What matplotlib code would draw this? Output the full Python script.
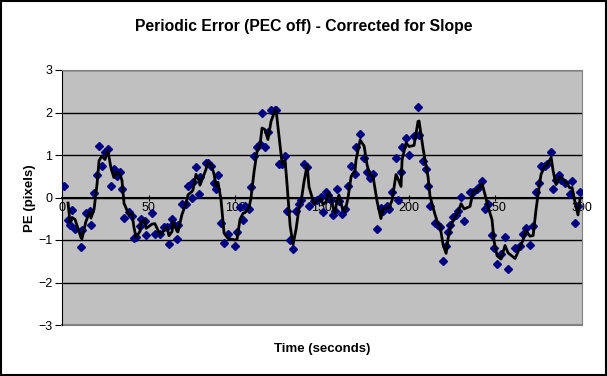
import numpy as np
import matplotlib
matplotlib.use('Agg')
from matplotlib import pyplot as plt
from matplotlib.patches import Rectangle

plt.rcParams['font.family'] = ['Liberation Sans', 'DejaVu Sans']

# time (s) and periodic error (pixels)
t = [1.2, 3.5, 4.6, 5.8, 7.5, 11.0, 11.5, 13.8, 16.0, 16.7, 18.5, 20.2, 21.4, 23.0, 24.8,
     26.5, 28.2, 29.9, 31.7, 33.5, 34.6, 35.8, 38.7, 40.4, 41.5, 42.7, 45.0, 45.6, 47.9, 48.5,
     52.0, 53.6, 56.5, 58.8, 60.6, 61.7, 63.5, 64.0, 66.4, 66.9, 69.2, 71.5, 72.7, 75.0, 75.6,
     77.3, 79.0, 79.6, 83.0, 84.2, 86.0, 87.7, 88.9, 90.0, 91.7, 93.5, 95.8, 99.8, 101.0, 102.7,
     104.5, 105.6, 107.9, 109.0, 110.8, 112.5, 114.2, 115.4, 117.1, 118.8, 120.6, 122.9, 123.5,
     125.2, 127.0, 128.7, 129.8, 131.6, 133.3, 135.0, 136.8, 137.9, 139.6, 141.4, 142.5, 145.4,
     147.1, 149.4, 150.6, 152.3, 153.5, 155.2, 156.4, 157.5, 158.7, 159.8, 161.6, 163.3, 165.0,
     166.8, 169.1, 169.6, 172.0, 174.3, 176.0, 177.7, 179.4, 181.8, 184.0, 185.2, 187.5, 188.7,
     190.4, 192.7, 193.9, 195.6, 196.2, 198.5, 200.2, 203.1, 205.4, 206.0, 208.3, 210.0, 211.2,
     212.3, 215.2, 216.9, 218.1, 219.8, 221.6, 222.7, 223.9, 225.6, 227.3, 228.5, 230.2, 232.0,
     235.4, 237.2, 239.5, 240.6, 242.4, 244.1, 245.8, 248.1, 249.3, 251.0, 253.3, 255.6, 257.4,
     261.4, 264.3, 266.0, 267.7, 270.0, 271.8, 273.5, 275.2, 276.4, 278.7, 279.8, 282.2, 283.3,
     285.0, 286.8, 287.9, 290.2, 293.1, 294.3, 296.0, 297.7, 298.8]
pe = [0.26, -0.52, -0.64, -0.30, -0.73, -1.17, -0.77, -0.36, -0.32, -0.65, 0.10, 0.52, 1.22, 0.73, 1.06,
      1.15, 0.26, 0.68, 0.50, 0.59, 0.21, -0.49, -0.33, -0.44, -0.96, -0.92, -0.67, -0.50, -0.56, -0.89,
      -0.36, -0.87, -0.87, -0.70, -0.70, -1.10, -0.50, -0.62, -0.97, -0.65, -0.15, -0.15, 0.28, 0.00, 0.37,
      0.72, 0.09, 0.49, 0.82, 0.82, 0.75, 0.35, 0.19, 0.52, -0.60, -1.08, -0.85, -1.15, -0.81, -0.22,
      -0.52, -0.19, -0.28, 0.24, 0.97, 1.18, 1.27, 2.00, 1.20, 1.53, 2.05, 2.05, 2.07,
      0.80, 0.78, 0.97, -0.31, -1.01, -1.20, -0.31, -0.15, -0.07, 0.80, 0.71, -0.21, -0.09,
      -0.07, 0.02, -0.35, 0.14, 0.07, -0.05, -0.42, -0.31, 0.21, -0.09, -0.38, -0.28, 0.26,
      0.73, 0.56, 1.20, 1.50, 0.92, 0.61, 0.45, 0.56, -0.75, -0.24, -0.31, -0.19, -0.28,
      0.14, 0.94, -0.07, 0.59, 1.18, 1.39, 1.01, 1.44, 2.14, 1.46, 0.85, 0.68, 0.28,
      -0.21, -0.59, -0.64, -0.70, -1.50, -1.13, -0.82, -0.64, -0.45, -0.40, -0.31, 0.02, -0.56,
      0.14, 0.14, 0.19, 0.24, 0.40, -0.28, -0.16, -0.89, -1.18, -1.56, -1.34, -0.92, -1.69,
      -1.18, -1.15, -0.85, -0.71, -1.11, -0.68, 0.12, 0.35, 0.75, 0.73, 0.80, 1.08, 0.19,
      0.42, 0.52, 0.42, 0.35, 0.09, 0.38, -0.61, -0.21, 0.12]

t = np.array(t)
pe = np.array(pe)
# 2-period moving average trendline
ma = (pe[1:] + pe[:-1]) / 2

fig = plt.figure(figsize=(6.07, 3.76), dpi=100)
fig.patches.append(Rectangle((0.001, 0.002), 0.997, 0.996, transform=fig.transFigure,
                             fill=False, ec='black', lw=1.5))
ax = fig.add_axes([62 / 607, 51 / 376, 520 / 607, 255 / 376])
ax.set_facecolor('#c0c0c0')

ax.set_xlim(0, 300)
ax.set_ylim(-3, 3)
ax.set_yticks(range(-3, 4))
ax.set_xticks(range(0, 301, 50))

for yv in range(-2, 4):
    ax.axhline(yv, color='black', lw=1, zorder=1)

ax.plot(t, pe, linestyle='none', marker='D', markersize=3.6, color='#000080', zorder=3)
ax.plot(t[1:], ma, color='black', lw=2, zorder=4)

ax.spines['bottom'].set_position(('data', 0))
ax.spines['bottom'].set_linewidth(1.5)
ax.spines['left'].set_color('black')
ax.spines['top'].set_color('#808080')
ax.spines['right'].set_color('#808080')
ax.axhline(-3, color='#808080', lw=1.5, clip_on=False)

ax.tick_params(axis='y', direction='out', length=5, labelsize=9, pad=2)
ax.tick_params(axis='x', direction='inout', length=5, labelsize=9, pad=1)

fig.text(0.5, 1 - 27 / 376, 'Periodic Error (PEC off) - Corrected for Slope', ha='center',
         va='center', fontsize=11.3, fontweight='bold')
fig.text(322 / 607, 1 - 349 / 376, 'Time (seconds)', ha='center', va='center',
         fontsize=9.5, fontweight='bold')
fig.text(30 / 607, 1 - 198 / 376, 'PE (pixels)', ha='center', va='center',
         rotation=90, fontsize=9.5, fontweight='bold')

fig.savefig('out.png', dpi=100)
